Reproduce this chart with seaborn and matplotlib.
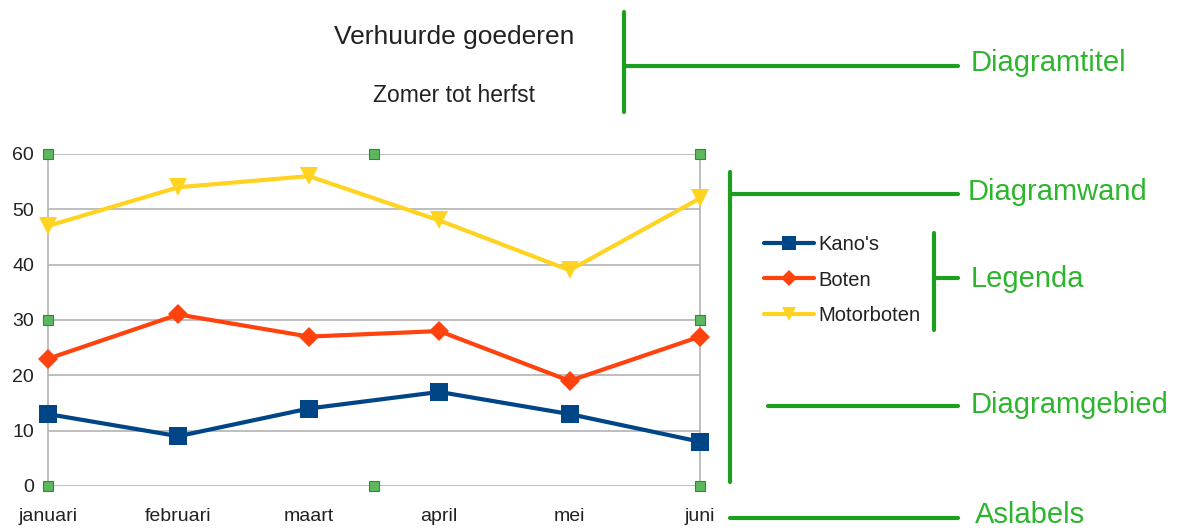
import pandas as pd
import matplotlib.pyplot as plt
from matplotlib.lines import Line2D
import seaborn as sns

# data
maanden = ['januari', 'februari', 'maart', 'april', 'mei', 'juni']
kanos = [13, 9, 14, 17, 13, 8]
boten = [23, 31, 27, 28, 19, 27]
motorboten = [47, 54, 56, 48, 39, 52]
series = ["Kano's", 'Boten', 'Motorboten']
kleuren = ['#004586', '#ff420e', '#ffd320']
markers = ['s', 'D', 'v']

GROEN = '#1e9e1e'
GROEN_TEKST = '#2db52d'

sns.set_style('white')
plt.rcParams['font.family'] = ['Liberation Sans', 'DejaVu Sans']

df = pd.DataFrame({
    'maand': maanden * 3,
    'x': list(range(len(maanden))) * 3,
    'aantal': kanos + boten + motorboten,
    'serie': [s for s in series for _ in maanden],
})

fig = plt.figure(figsize=(11.8, 5.3), dpi=100)
ax = fig.add_axes([48 / 1180, 1 - 486 / 530, 652 / 1180, 332 / 530])

ax.set_ylim(0, 60)
ax.set_xlim(0, 5)
ax.set_yticks(range(0, 61, 10))
ax.yaxis.grid(True, color='#b3b3b3', linewidth=1.2)
ax.set_axisbelow(True)

sns.lineplot(data=df, x='x', y='aantal', hue='serie', style='serie',
             palette=dict(zip(series, kleuren)), markers=dict(zip(series, markers)),
             dashes=False, linewidth=3, markersize=12.5, markeredgewidth=0,
             ax=ax, legend=False, clip_on=False, zorder=3)
# diamonds a bit smaller
for line in ax.lines:
    if line.get_marker() == 'D':
        line.set_markersize(10)

for kant, sp in ax.spines.items():
    sp.set_color('#b3b3b3')
    sp.set_linewidth(1.2)
ax.spines['top'].set_visible(False)
ax.spines['bottom'].set_visible(False)

ax.set_xticks(range(len(maanden)))
ax.set_xticklabels(maanden)
ax.tick_params(axis='x', length=6, color='#b3b3b3', width=1.2, labelsize=14, pad=10, colors='#b3b3b3',
               labelcolor='#222222', direction='out')
ax.tick_params(axis='y', length=0, labelsize=14, pad=10, labelcolor='#222222')
ax.set_xlabel('')
ax.set_ylabel('')

# green handles on the chart wall
over = fig.add_axes([0, 0, 1, 1], facecolor='none')
over.set_xlim(0, 1180)
over.set_ylim(530, 0)
over.axis('off')
for hx, hy in [(48, 154), (374, 154), (700, 154), (48, 320), (700, 320),
               (48, 486), (374, 486), (700, 486)]:
    over.plot(hx, hy, marker='s', markersize=7, color='#5cb85c', markeredgecolor='#2e8b2e',
              markeredgewidth=0.8, zorder=5)

# titles
fig.text(454 / 1180, 1 - 37 / 530, 'Verhuurde goederen', ha='center', va='center',
         fontsize=19, color='#222222')
fig.text(454 / 1180, 1 - 96 / 530, 'Zomer tot herfst', ha='center', va='center',
         fontsize=16.5, color='#222222')

# legend
handles = [Line2D([], [], color=c, marker=m, linewidth=3, markersize=10 if m != 'D' else 8,
                  markeredgewidth=0) for c, m in zip(kleuren, markers)]
fig.legend(handles, series, loc='center left', bbox_to_anchor=(746 / 1180, 1 - 280 / 530),
           frameon=False, fontsize=14.5, handlelength=2.5, handletextpad=0.2, labelspacing=0.8,
           labelcolor='#222222')

# annotation lines and labels
lw = 3
over.plot([624, 624], [12, 112], color=GROEN, lw=lw)
over.plot([624, 958], [66, 66], color=GROEN, lw=lw)
over.plot([730, 730], [172, 482], color=GROEN, lw=lw)
over.plot([730, 958], [194, 194], color=GROEN, lw=lw)
over.plot([934, 934], [233, 330], color=GROEN, lw=lw)
over.plot([934, 958], [278, 278], color=GROEN, lw=lw)
over.plot([768, 958], [406, 406], color=GROEN, lw=lw)
over.plot([730, 958], [518, 518], color=GROEN, lw=lw)

for tx, ty, tekst in [(971, 63, 'Diagramtitel'), (968, 192, 'Diagramwand'),
                      (971, 279, 'Legenda'), (971, 405, 'Diagramgebied'),
                      (975, 515, 'Aslabels')]:
    over.text(tx, ty, tekst, ha='left', va='center', fontsize=21, color=GROEN_TEKST)

plt.savefig('out.png', dpi=100)
plt.close()
